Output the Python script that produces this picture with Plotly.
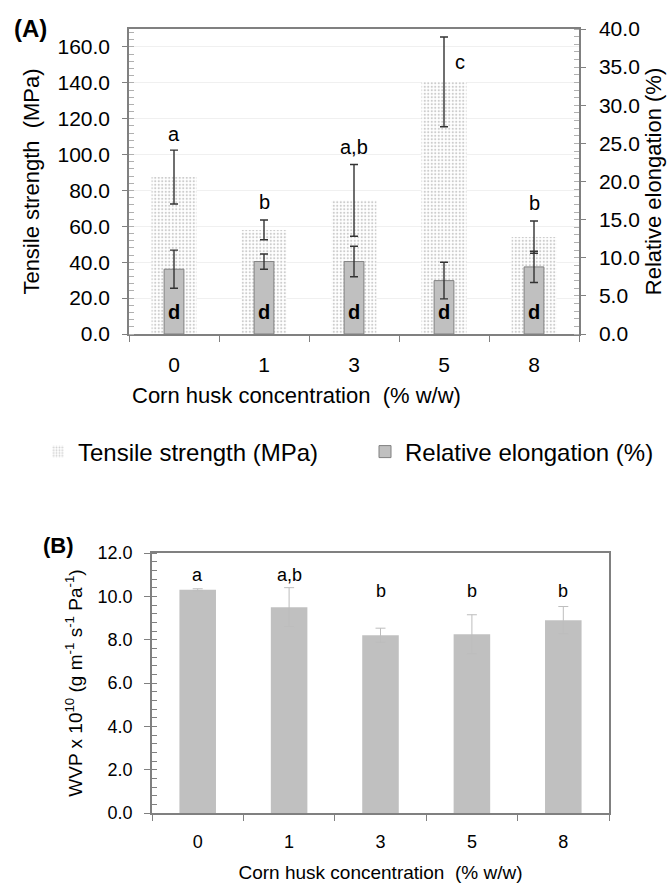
import plotly.graph_objects as go

# ---------------- data ----------------
categories = ["0", "1", "3", "5", "8"]

tensile_strength = [87.5, 58.0, 74.5, 140.5, 54.0]
tensile_err = [15.0, 5.5, 20.0, 25.0, 9.0]
tensile_letters = ["a", "b", "a,b", "c", "b"]
tensile_letter_y = [111.6, 73.3, 104.4, 151.7, 72.8]

elongation = [8.5, 9.5, 9.5, 7.0, 8.8]
elongation_err = [2.5, 1.0, 2.0, 2.4, 2.05]
elongation_letters = ["d", "d", "d", "d", "d"]

wvp = [10.3, 9.5, 8.2, 8.25, 8.9]
wvp_err = [0.05, 0.9, 0.33, 0.9, 0.63]
wvp_letters = ["a", "a,b", "b", "b", "b"]
wvp_letter_y = [11.0, 11.0, 10.25, 10.25, 10.25]

FONT = "Liberation Sans, Arial, sans-serif"
W, H = 672, 883


def px_x(p):
    return p / W


def px_y(p):
    return 1 - p / H


fig = go.Figure()

fig.add_trace(go.Bar(
    x=categories, y=tensile_strength, name="Tensile strength (MPa)",
    xaxis="x", yaxis="y", width=0.5,
    marker=dict(color="white", line=dict(width=0),
                pattern=dict(shape=".", fgcolor="#999999", bgcolor="white",
                             size=3.5, solidity=0.3)),
    error_y=dict(type="data", array=tensile_err, color="#333333",
                 thickness=1.4, width=4),
))

fig.add_trace(go.Bar(
    x=categories, y=elongation, name="Relative elongation (%)",
    xaxis="x", yaxis="y2", width=0.22,
    marker=dict(color="#c0c0c0", line=dict(color="#808080", width=1)),
    error_y=dict(type="data", array=elongation_err, color="#333333",
                 thickness=1.4, width=4),
))

fig.add_trace(go.Bar(
    x=categories, y=wvp, name="WVP", showlegend=False,
    xaxis="x2", yaxis="y3", width=0.4,
    marker=dict(color="#c0c0c0", line=dict(width=0)),
    error_y=dict(type="data", array=wvp_err, color="#bdbdbd",
                 thickness=1, width=5),
))

annotations = []
# letters panel A (x given as category index)
for i, (t, yv) in enumerate(zip(tensile_letters, tensile_letter_y)):
    annotations.append(dict(x=i, y=yv, xref="x", yref="y", text=t,
                            showarrow=False, xshift=(16 if t == "c" else 0),
                            yanchor="middle",
                            font=dict(family=FONT, size=20, color="black")))
for i, t in enumerate(elongation_letters):
    annotations.append(dict(x=i, y=0, xref="x", yref="y2", text="<b>%s</b>" % t,
                            showarrow=False, yshift=22, yanchor="middle",
                            font=dict(family=FONT, size=20, color="black")))
# letters panel B
for i, (t, yv) in enumerate(zip(wvp_letters, wvp_letter_y)):
    annotations.append(dict(x=i, y=yv, xref="x2", yref="y3", text=t,
                            showarrow=False, yanchor="middle",
                            font=dict(family=FONT, size=18, color="black")))
# panel labels
annotations.append(dict(x=px_x(12), y=px_y(28), xref="paper", yref="paper",
                        text="<b>(A)</b>", showarrow=False, xanchor="left",
                        yanchor="middle",
                        font=dict(family=FONT, size=24, color="black")))
annotations.append(dict(x=px_x(41), y=px_y(545), xref="paper", yref="paper",
                        text="<b>(B)</b>", showarrow=False, xanchor="left",
                        yanchor="middle",
                        font=dict(family=FONT, size=22, color="black")))
# x-axis title of panel A (placed left of centre as in the original)
annotations.append(dict(x=px_x(130), y=px_y(395), xref="paper", yref="paper",
                        text="Corn husk concentration  (% w/w)", showarrow=False,
                        xanchor="left", yanchor="middle",
                        font=dict(family=FONT, size=22, color="black")))

axis_grey = "#808080"

fig.update_layout(
    width=W, height=H,
    margin=dict(l=0, r=0, t=0, b=0, autoexpand=False),
    paper_bgcolor="white", plot_bgcolor="white",
    barmode="overlay",
    font=dict(family=FONT, color="black"),
    annotations=annotations,
    legend=dict(orientation="h", x=px_x(38), y=px_y(452), xanchor="left",
                yanchor="middle", entrywidth=282, entrywidthmode="pixels",
                font=dict(family=FONT, size=24, color="black"),
                bgcolor="rgba(0,0,0,0)"),
    xaxis=dict(domain=[px_x(129), px_x(579)], anchor="y", type="category",
               automargin=False,
               tickson="boundaries", ticks="outside", ticklen=6,
               tickcolor=axis_grey, showline=True, linecolor=axis_grey,
               linewidth=1.5, mirror=True, showgrid=False,
               tickfont=dict(size=21), ticklabelstandoff=11),
    yaxis=dict(domain=[px_y(334), px_y(29)], anchor="x", range=[0, 170],
               automargin=False,
               dtick=20, tickformat=".1f", ticks="outside", ticklen=5,
               tickcolor=axis_grey, showline=True, linecolor=axis_grey,
               linewidth=1.5, showgrid=True, gridcolor="#f0f0f0",
               zeroline=False, tickfont=dict(size=21), ticklabelstandoff=8,
               minor=dict(dtick=4, ticks="inside", ticklen=5,
                          tickcolor="#b0b0b0", showgrid=False),
               title=dict(text="Tensile strength  (MPa)",
                          font=dict(size=22), standoff=12)),
    yaxis2=dict(overlaying="y", side="right", anchor="x", range=[0, 40],
                automargin=False,
                dtick=5, tickformat=".1f", ticks="outside", ticklen=5,
                tickcolor=axis_grey, showline=True, linecolor=axis_grey,
                linewidth=1.5, showgrid=False, zeroline=False,
                tickfont=dict(size=21), ticklabelstandoff=9,
                minor=dict(dtick=1, ticks="inside", ticklen=5,
                           tickcolor="#b0b0b0"),
                title=dict(text="Relative elongation (%)",
                           font=dict(size=22), standoff=7)),
    xaxis2=dict(domain=[px_x(152), px_x(609)], anchor="y3", type="category",
                automargin=False,
                tickson="boundaries", ticks="outside", ticklen=6,
                tickcolor=axis_grey, showline=True, linecolor=axis_grey,
                linewidth=1.5, mirror=True, showgrid=False,
                tickfont=dict(size=18), ticklabelstandoff=12,
                title=dict(text="Corn husk concentration  (% w/w)",
                           font=dict(size=19), standoff=14)),
    yaxis3=dict(domain=[px_y(813), px_y(553)], anchor="x2", range=[0, 12],
                automargin=False,
                dtick=2, tickformat=".1f", ticks="outside", ticklen=6,
                tickcolor=axis_grey, showline=True, linecolor=axis_grey,
                linewidth=1.5, mirror=True, showgrid=False, zeroline=False,
                tickfont=dict(size=18), ticklabelstandoff=8,
                minor=dict(dtick=0.4, ticks="inside", ticklen=5,
                           tickcolor=axis_grey),
                title=dict(text="WVP x 10<sup>10</sup> (g m<sup>-1</sup> s<sup>-1</sup> Pa<sup>-1</sup>)",
                           font=dict(size=19), standoff=10)),
)

fig.write_html("out.html", config={"displayModeBar": False},
               post_script="document.body.style.margin='0px';")
